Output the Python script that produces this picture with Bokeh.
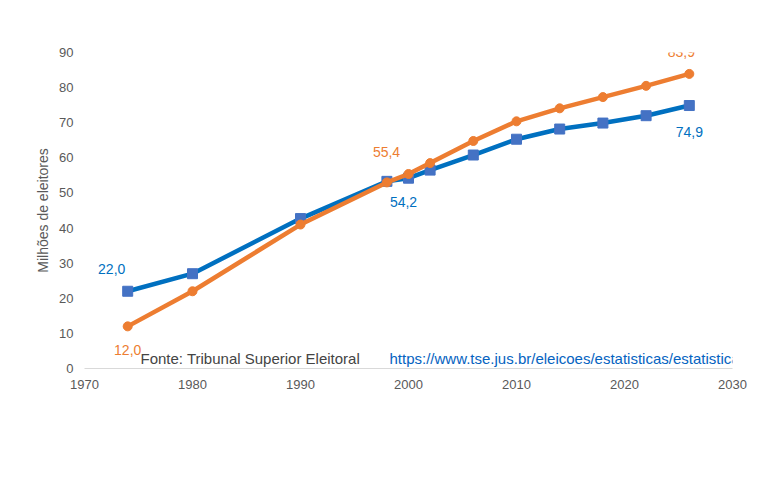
from bokeh.plotting import figure
from bokeh.models import Label, Legend, LegendItem, SingleIntervalTicker
from bokeh.embed import file_html
from bokeh.resources import INLINE

years = [1974, 1980, 1990, 1998, 2000, 2002, 2006, 2010, 2014, 2018, 2022, 2026]
homem = [22.0, 27.0, 42.7, 53.3, 54.2, 56.5, 60.8, 65.3, 68.2, 69.9, 72.0, 74.9]
mulher = [12.0, 22.0, 41.0, 53.0, 55.4, 58.5, 64.8, 70.4, 74.1, 77.3, 80.5, 83.9]
title = "Eleitorado brasileiro, por sexo: 1974-2026"
fonte = "Fonte: Tribunal Superior Eleitoral "
link = "https://www.tse.jus.br/eleicoes/estatisticas/estatisticas"

F = "Liberation Sans"
BLUE = "#0070C0"; SQ = "#4472C4"; ORANGE = "#ED7D31"

p = figure(width=764, height=480, output_backend="svg", toolbar_location=None,
           x_range=(1970, 2030), y_range=(0, 90),
           min_border_left=84, min_border_right=32, min_border_top=52, min_border_bottom=112)
p.xgrid.visible = False; p.ygrid.visible = False
p.outline_line_color = None
for ax in (p.xaxis, p.yaxis):
    ax.axis_line_color = "#d9d9d9"
    ax.major_tick_line_color = None; ax.minor_tick_line_color = None
    ax.major_label_text_font = F; ax.major_label_text_font_size = "13px"
    ax.major_label_text_color = "#595959"
p.xaxis.ticker = SingleIntervalTicker(interval=10)
p.yaxis.ticker = SingleIntervalTicker(interval=10)
p.yaxis.axis_line_color = None
p.yaxis.axis_label = "Milhões de eleitores"
p.yaxis.axis_label_text_font = F; p.yaxis.axis_label_text_font_size = "14px"
p.yaxis.axis_label_text_font_style = "normal"; p.yaxis.axis_label_text_color = "#595959"

l1 = p.line(years, homem, line_color=BLUE, line_width=4.5)
s1 = p.scatter(years, homem, marker="square", size=10, fill_color=SQ, line_color=SQ)
l2 = p.line(years, mulher, line_color=ORANGE, line_width=4.5)
s2 = p.scatter(years, mulher, marker="circle", size=9, fill_color=ORANGE, line_color=ORANGE)

def lab(x, y, t, c, dx, dy):
    p.add_layout(Label(x=x, y=y, text=t, text_color=c, x_offset=dx, y_offset=dy,
                       text_font=F, text_font_size="14px", text_align="center", text_baseline="middle"))
lab(years[0], homem[0], "22,0", BLUE, -16, 22)
lab(years[0], mulher[0], "12,0", ORANGE, 0, -24)
lab(years[4], homem[4], "54,2", BLUE, -5, -24)
lab(years[4], mulher[4], "55,4", ORANGE, -22, 22)
lab(years[-1], homem[-1], "74,9", BLUE, 0, -26)
lab(years[-1], mulher[-1], "83,9", ORANGE, -8, 22)

leg = Legend(items=[LegendItem(label="Homem", renderers=[l1, s1]),
                    LegendItem(label="Mulher", renderers=[l2, s2])],
             orientation="horizontal", location=(170, -78), border_line_color=None,
             background_fill_alpha=0,
             label_text_font=F, label_text_font_size="14px", label_text_color="#595959",
             spacing=90, glyph_width=40)
p.add_layout(leg)

p.add_layout(Label(x=382, y=468, x_units="screen", y_units="screen", text=title, text_font=F,
                   text_font_style="bold", text_font_size="16px", text_align="center", text_baseline="middle"))
p.add_layout(Label(x=56, y=10, x_units="screen", y_units="screen", text=fonte, text_font=F,
                   text_font_size="15px", text_baseline="middle"))
p.add_layout(Label(x=305, y=10, x_units="screen", y_units="screen", text=link, text_font=F,
                   text_font_size="15px", text_baseline="middle", text_color="#0563C1"))

open("out.html", "w").write(file_html(p, INLINE))
